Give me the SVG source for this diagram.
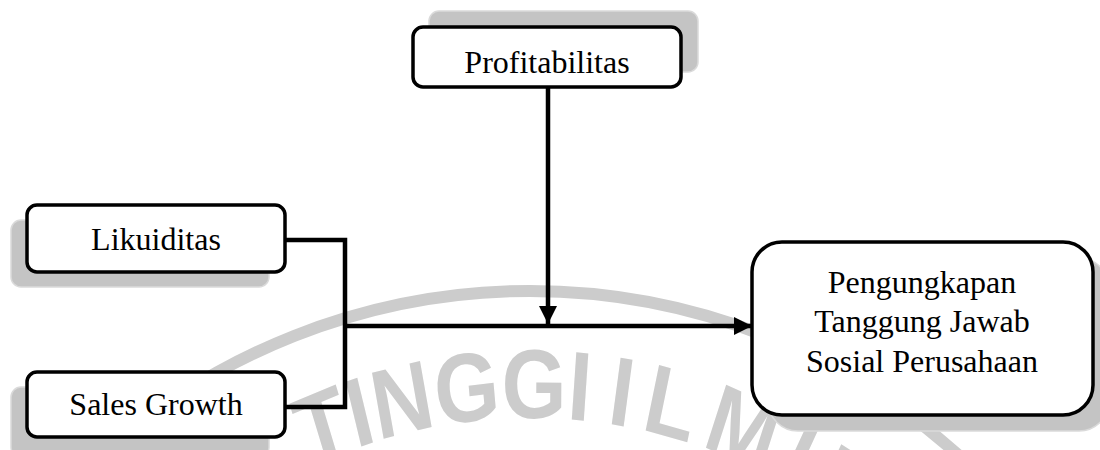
<svg xmlns="http://www.w3.org/2000/svg" width="1100" height="450" viewBox="0 0 1100 450">
  <style>
    .shadow { fill: #c4c4c4; stroke: #dadada; stroke-width: 1.5; }
    .box { fill: #ffffff; stroke: #000000; stroke-width: 3.5; }
    .label { font-family: "Liberation Serif", "Times New Roman", serif; font-size: 32px; fill: #000000; text-anchor: middle; }
    .conn { fill: none; stroke: #000000; stroke-width: 4.5; }
    .wm { fill: #cccccc; font-family: "Liberation Sans", Arial, sans-serif; font-weight: bold; font-size: 98px; }
  </style>
  <defs>
    <marker id="arrow" markerUnits="userSpaceOnUse" markerWidth="20" markerHeight="18" refX="18" refY="9" orient="auto">
      <polygon points="0,0 18,9 0,18" fill="#000000"/>
    </marker>
    <path id="wmPath" d="M 55.3 756.2 A 604.7 514 0 0 1 1191.8 756.2"/>
  </defs>
  <rect width="1100" height="450" fill="#ffffff"/>

  <g id="watermark">
    <circle cx="530" cy="932" r="641" fill="none" stroke="#cccccc" stroke-width="12"/>
    <g transform="scale(0.85,1)">
      <text class="wm" text-anchor="end"><textPath href="#wmPath" startOffset="50%"><tspan dx="70">TINGGI</tspan></textPath></text>
      <text class="wm" text-anchor="start" letter-spacing="13"><textPath href="#wmPath" startOffset="50%"><tspan dx="90">ILMU</tspan></textPath></text>
    </g>
  </g>

  <g id="node-profitabilitas">
    <rect class="shadow" x="429" y="11" width="269" height="61" rx="10"/>
    <rect class="box" x="413" y="27" width="268" height="60" rx="10"/>
    <text class="label" x="547" y="73">Profitabilitas</text>
  </g>

  <g id="node-likuiditas">
    <rect class="shadow" x="11" y="220" width="258" height="67" rx="10"/>
    <rect class="box" x="27" y="205" width="258" height="67" rx="10"/>
    <text class="label" x="156" y="250">Likuiditas</text>
  </g>

  <g id="node-sales-growth">
    <rect class="shadow" x="11" y="387" width="258" height="70" rx="10"/>
    <rect class="box" x="27" y="372" width="258" height="65" rx="10"/>
    <text class="label" x="156" y="415">Sales Growth</text>
  </g>

  <g id="node-pengungkapan">
    <rect class="shadow" x="768" y="258" width="341" height="173" rx="30"/>
    <rect class="box" x="752" y="242" width="341" height="173" rx="30"/>
    <text class="label" x="922" y="293">Pengungkapan</text>
    <text class="label" x="922" y="332">Tanggung Jawab</text>
    <text class="label" x="922" y="372">Sosial Perusahaan</text>
  </g>

  <g id="connectors">
    <polyline class="conn" points="285,240 345,240 345,407 285,407"/>
    <line class="conn" x1="343" y1="326" x2="752" y2="326" marker-end="url(#arrow)"/>
    <line class="conn" x1="548" y1="88" x2="548" y2="324" marker-end="url(#arrow)"/>
  </g>
</svg>
